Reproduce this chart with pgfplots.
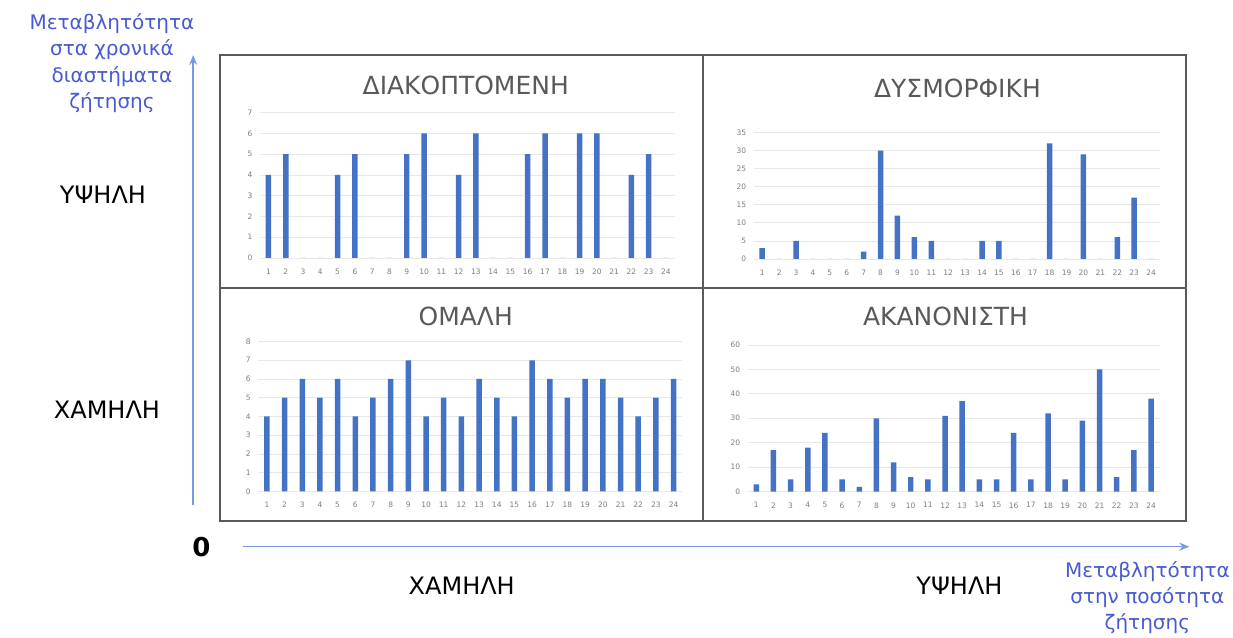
\documentclass[border=0pt]{standalone}
\usepackage{pgfplots}
\pgfplotsset{compat=1.18}
\usepackage{fontspec}
\setmainfont{DejaVu Sans}
\usetikzlibrary{arrows.meta}
\definecolor{barblue}{RGB}{68,114,196}
\definecolor{titlegray}{RGB}{89,89,89}
\definecolor{tickgray}{RGB}{125,125,125}
\definecolor{textblue}{RGB}{72,90,210}
\definecolor{arrowblue}{RGB}{120,152,228}
\definecolor{framegray}{RGB}{90,90,90}

\pgfplotstableread{
x y
1 4
2 5
3 0
4 0
5 4
6 5
7 0
8 0
9 5
10 6
11 0
12 4
13 6
14 0
15 0
16 5
17 6
18 0
19 6
20 6
21 0
22 4
23 5
24 0
}\diakoptomeni
\pgfplotstableread{
x y
1 3
2 0
3 5
4 0
5 0
6 0
7 2
8 30
9 12
10 6
11 5
12 0
13 0
14 5
15 5
16 0
17 0
18 32
19 0
20 29
21 0
22 6
23 17
24 0
}\dysmorfiki
\pgfplotstableread{
x y
1 4
2 5
3 6
4 5
5 6
6 4
7 5
8 6
9 7
10 4
11 5
12 4
13 6
14 5
15 4
16 7
17 6
18 5
19 6
20 6
21 5
22 4
23 5
24 6
}\omali
\pgfplotstableread{
x y
1 3
2 17
3 5
4 18
5 24
6 5
7 2
8 30
9 12
10 6
11 5
12 31
13 37
14 5
15 5
16 24
17 5
18 32
19 5
20 29
21 50
22 6
23 17
24 38
}\akanonisti

\pgfplotsset{
  panel/.style={
    scale only axis,
    anchor=south west,
    xmin=0.5, xmax=24.5,
    ymin=0,
    axis line style={draw=none},
    tick style={draw=none},
    ymajorgrids,
    major grid style={gray!18, line width=0.6bp},
    xtick={1,...,24},
    tick label style={font=\fontsize{7.5bp}{8.5bp}\selectfont, text=tickgray},
    /pgf/number format/assume math mode=true,
    xticklabel style={yshift=-3bp},
    yticklabel style={xshift=-4bp},
    ybar,
    bar width=5.5bp,
    clip=false,
  },
  bars/.style={fill=barblue, draw=none},
}

\begin{document}
\begin{tikzpicture}
\path (0,0) rectangle (1233bp,-633bp);

% panel 1
\begin{axis}[panel, at={(260bp,-258bp)}, width=415bp, height=145.3bp, ymax=7, ytick={0,1,...,7}]
\addplot[bars] table[x=x,y=y]{\diakoptomeni};
\end{axis}
% panel 2
\begin{axis}[panel, at={(754.2bp,-259bp)}, width=406bp, height=126.3bp, ymax=35, ytick={0,5,...,35}]
\addplot[bars] table[x=x,y=y]{\dysmorfiki};
\end{axis}
% panel 3
\begin{axis}[panel, at={(258.2bp,-491.7bp)}, width=424.6bp, height=150bp, ymax=8, ytick={0,1,...,8}]
\addplot[bars] table[x=x,y=y]{\omali};
\end{axis}
% panel 4
\begin{axis}[panel, at={(748.1bp,-492bp)}, width=412.2bp, height=147bp, ymax=60, ytick={0,10,...,60}]
\addplot[bars] table[x=x,y=y]{\akanonisti};
\end{axis}

% frame
\draw[framegray, line width=2bp] (220bp,-55bp) rectangle (1187bp,-521.5bp);
\draw[framegray, line width=2bp] (703.3bp,-55bp) -- (703.3bp,-521.5bp);
\draw[framegray, line width=2bp] (220bp,-288.3bp) -- (1187bp,-288.3bp);

% titles
\begin{scope}[every node/.style={font=\fontsize{25bp}{30bp}\selectfont, text=titlegray}]
\node at (466bp,-85bp) {ΔΙΑΚΟΠΤΟΜΕΝΗ};
\node at (958bp,-88bp) {ΔΥΣΜΟΡΦΙΚΗ};
\node at (466bp,-317bp) {ΟΜΑΛΗ};
\node at (946bp,-317bp) {ΑΚΑΝΟΝΙΣΤΗ};
\end{scope}

% arrows
\draw[arrowblue, line width=1.6bp, -{Stealth[length=10bp,width=8bp]}] (193.3bp,-505bp) -- (193.3bp,-55bp);
\draw[arrowblue, line width=1.6bp, -{Stealth[length=10bp,width=8bp]}] (243bp,-547bp) -- (1190bp,-547bp);

% axis labels
\begin{scope}[every node/.style={font=\fontsize{24bp}{28bp}\selectfont, text=black}]
\node at (103bp,-195bp) {ΥΨΗΛΗ};
\node at (107bp,-410bp) {ΧΑΜΗΛΗ};
\node at (462bp,-586bp) {ΧΑΜΗΛΗ};
\node at (960bp,-586bp) {ΥΨΗΛΗ};
\end{scope}
\node[font=\fontsize{26bp}{30bp}\selectfont\bfseries] at (201.5bp,-547.5bp) {0};

\node[font=\fontsize{20bp}{26.3bp}\selectfont, text=textblue, align=center, anchor=north] at (112bp,-10bp)
  {Μεταβλητότητα\\στα χρονικά\\διαστήματα\\ζήτησης};
\node[font=\fontsize{20bp}{26.3bp}\selectfont, text=textblue, align=center, anchor=north] at (1148bp,-558bp)
  {Μεταβλητότητα\\στην ποσότητα\\ζήτησης};
\end{tikzpicture}
\end{document}
